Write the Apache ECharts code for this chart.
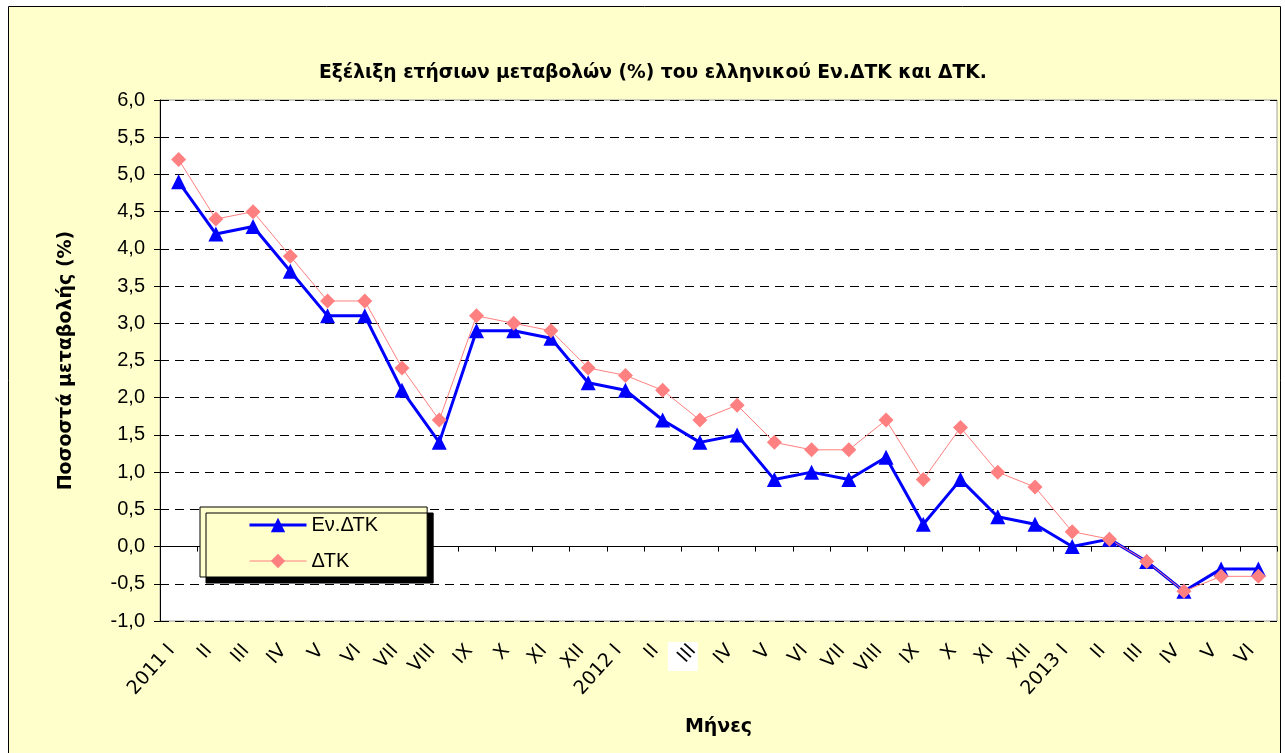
<!DOCTYPE html>
<html>
<head>
<meta charset="utf-8">
<script src="https://cdn.jsdelivr.net/npm/echarts@6/dist/echarts.min.js"></script>
<style>html,body{margin:0;padding:0;background:#fff;}#c{width:1285px;height:753px;}</style>
</head>
<body>
<div id="c"></div>
<script>
const categories = ["2011 I","II","III","IV","V","VI","VII","VIII","IX","X","XI","XII",
  "2012 I","II","III","IV","V","VI","VII","VIII","IX","X","XI","XII",
  "2013 I","II","III","IV","V","VI"];
const enDTK = [4.9,4.2,4.3,3.7,3.1,3.1,2.1,1.4,2.9,2.9,2.8,2.2,
  2.1,1.7,1.4,1.5,0.9,1.0,0.9,1.2,0.3,0.9,0.4,0.3,
  0.0,0.1,-0.2,-0.6,-0.3,-0.3];
const dtk = [5.2,4.4,4.5,3.9,3.3,3.3,2.4,1.7,3.1,3.0,2.9,2.4,
  2.3,2.1,1.7,1.9,1.4,1.3,1.3,1.7,0.9,1.6,1.0,0.8,
  0.2,0.1,-0.2,-0.6,-0.4,-0.4];
const seriesNames = ["Εν.ΔΤΚ","ΔΤΚ"];
const titleText = "Εξέλιξη ετήσιων μεταβολών (%) του ελληνικού Εν.ΔΤΚ και ΔΤΚ.";
const yName = "Ποσοστά μεταβολής (%)";
const xName = "Μήνες";
const highlightedLabel = 14;

const FONT = '"Liberation Sans", Arial, sans-serif';
const BFONT = '"DejaVu Sans", sans-serif';
const chart = echarts.init(document.getElementById('c'), null, {renderer:'canvas'});
const outerRect = {
  type: 'rect', z: -10, silent: true,
  shape: {x: 8.5, y: 6.5, width: 1272, height: 760},
  style: {fill: '#FFFFCC', stroke: '#000', lineWidth: 1}
};
chart.setOption({
  backgroundColor: '#ffffff',
  animation: false,
  graphic: [outerRect],
  title: {
    text: titleText, left: 314, top: 59,
    textStyle: {fontFamily: BFONT, fontSize: 18.7, fontWeight: 'bold', color: '#000'}
  },
  grid: {left: 160, right: 8, top: 100, bottom: 132, show: true,
    backgroundColor: '#ffffff', borderColor: '#a0a0a0', borderWidth: 1},
  legend: {
    orient: 'vertical', left: 200, top: 507,
    data: [
      {name: seriesNames[0], lineStyle: {width: 3}},
      {name: seriesNames[1], lineStyle: {width: 1}}
    ],
    itemWidth: 57, itemHeight: 18, itemGap: 16,
    padding: [8, 49, 6, 48],
    backgroundColor: '#FFFFCC', borderColor: '#000', borderWidth: 1,
    shadowColor: '#000', shadowBlur: 0, shadowOffsetX: 6, shadowOffsetY: 6,
    textStyle: {fontFamily: FONT, fontSize: 20, color: '#000'}
  },
  xAxis: {
    type: 'category', data: categories, boundaryGap: true,
    name: xName, nameLocation: 'middle', nameGap: 97,
    nameTextStyle: {fontFamily: BFONT, fontSize: 19, fontWeight: 'bold', color: '#000'},
    axisLine: {lineStyle: {color: '#000', width: 1}},
    axisTick: {show: true, length: 5, alignWithLabel: false, lineStyle: {color: '#000'}},
    axisLabel: {
      rotate: 48, interval: 0, margin: 33, verticalAlign: 'bottom',
      fontFamily: BFONT, fontSize: 19, color: '#000'
    },
    splitLine: {show: false}
  },
  yAxis: {
    type: 'value', min: -1, max: 6, interval: 0.5,
    name: yName, nameLocation: 'middle', nameGap: 84,
    nameTextStyle: {fontFamily: BFONT, fontSize: 19, fontWeight: 'bold', color: '#000'},
    axisLine: {show: true, lineStyle: {color: '#000', width: 1}},
    axisTick: {show: true, length: 6, lineStyle: {color: '#000'}},
    axisLabel: {
      fontFamily: FONT, fontSize: 20, color: '#000', margin: 15,
      formatter: function (v) { return v.toFixed(1).replace('.', ','); }
    },
    splitLine: {show: true, lineStyle: {color: '#000', type: [9, 6], width: 1}}
  },
  series: [
    {
      name: seriesNames[0], type: 'line', data: enDTK,
      symbol: 'triangle', symbolSize: 15,
      lineStyle: {color: '#0000FF', width: 3},
      itemStyle: {color: '#0000FF'}
    },
    {
      name: seriesNames[1], type: 'line', data: dtk,
      symbol: 'diamond', symbolSize: 15,
      lineStyle: {color: '#FF8080', width: 1},
      itemStyle: {color: '#FF8080'}
    }
  ]
});
// white selection box behind one category label, placed through the axis scale
const cx = chart.convertToPixel({xAxisIndex: 0}, highlightedLabel);
const axisY = chart.convertToPixel({yAxisIndex: 0}, -1);
chart.setOption({
  graphic: [outerRect, {
    type: 'rect', z: -5, silent: true,
    shape: {x: cx - 32, y: axisY + 21, width: 30, height: 29},
    style: {fill: '#ffffff'}
  }]
});
</script>
</body>
</html>
